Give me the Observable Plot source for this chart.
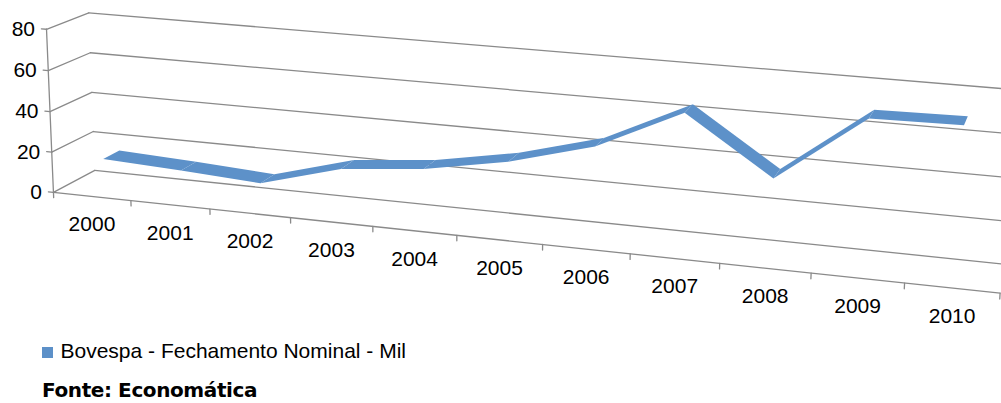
<!DOCTYPE html>
<html><head><meta charset="utf-8">
<script src="https://cdn.jsdelivr.net/npm/d3@7"></script>
<script src="https://cdn.jsdelivr.net/npm/@observablehq/plot@0.6"></script>
<style>
html,body{margin:0;padding:0;background:#fff;}
#wrap{position:relative;width:1001px;height:403px;overflow:hidden;background:#fff;}
#chart{position:absolute;left:0;top:0;}
#sw{position:absolute;left:41.5px;top:346.5px;width:11px;height:11px;background:#5c90c8;}
#lt{position:absolute;left:60.5px;top:339px;font-size:21px;line-height:24px;font-family:"Liberation Sans",Arial,sans-serif;color:#000;white-space:nowrap;}
#source{position:absolute;left:42px;top:378px;font-weight:bold;font-size:20px;line-height:24px;letter-spacing:-0.4px;font-family:"DejaVu Sans",Verdana,sans-serif;color:#000;white-space:nowrap;}
</style></head><body>
<div id="wrap"><div id="chart"></div><div id="sw"></div><div id="lt"></div><div id="source"></div></div>
<script>
// ---- data ----
const years = ["2000","2001","2002","2003","2004","2005","2006","2007","2008","2009","2010"];
const values = [15.3, 13.6, 11.3, 22.2, 26.2, 33.5, 44.5, 63.9, 37.6, 68.6, 69.3];
const yTicks = [0, 20, 40, 60, 80];
const seriesName = "Bovespa - Fechamento Nominal - Mil";
const sourceText = "Fonte: Economática";

// ---- 3D perspective camera: (category position u, value v, depth w) -> screen ----
const cam = {
  ax: [76.156, -0.09696, 44.874, 52.951],
  ay: [6.2634, -2.04554, -15.636, 191.904],
  d:  [-0.009907, -0.000221, 0.037509]
};
function P(u, v, w) {
  const d = 1 + cam.d[0]*u + cam.d[1]*v + cam.d[2]*w;
  return [
    (cam.ax[0]*u + cam.ax[1]*v + cam.ax[2]*w + cam.ax[3]) / d,
    (cam.ay[0]*u + cam.ay[1]*v + cam.ay[2]*w + cam.ay[3]) / d
  ];
}
const perspective = d3.geoTransform({
  point(u, v, w) { const [X, Y] = P(u, v, w || 0); this.stream.point(X, Y); }
});

const nCat = years.length;
const vMax = yTicks[yTicks.length - 1];
const w1 = 0.30, w2 = 0.70;
const line = pts => ({type: "LineString", coordinates: pts});

const backGrid = yTicks.map(v => line([[0, v, 1], [nCat, v, 1]]));
const sideGrid = yTicks.map(v => line([[0, v, 0], [0, v, 1]]));
const axes = [line([[0, 0, 0], [0, vMax, 0]]), line([[0, 0, 0], [nCat, 0, 0]])];
const yTickMarks = yTicks.map(v => line([[0, v, 0], [-0.066, v, 0]]));
const xTickMarks = d3.range(nCat + 1).map(i => line([[i, 0, 0], [i, -2.6, 0]]));
const ribbon = d3.range(values.length - 1).map(i => ({type: "Polygon", coordinates: [[
  [i + 0.5, values[i], w1], [i + 1.5, values[i + 1], w1], [i + 1.5, values[i + 1], w2], [i + 0.5, values[i], w2], [i + 0.5, values[i], w1]
]]}));

const gridColor = "#8a8a8a";
const chart = Plot.plot({
  width: 1001, height: 330, margin: 0,
  projection: perspective,
  style: {fontFamily: "'Liberation Sans', Arial, sans-serif", background: "transparent", overflow: "hidden"},
  marks: [
    Plot.geo(backGrid, {stroke: gridColor, strokeWidth: 1.3}),
    Plot.geo(sideGrid, {stroke: gridColor, strokeWidth: 1.3}),
    Plot.geo(axes, {stroke: gridColor, strokeWidth: 1.3}),
    Plot.geo(yTickMarks, {stroke: gridColor, strokeWidth: 1.3}),
    Plot.geo(xTickMarks, {stroke: gridColor, strokeWidth: 1.3}),
    Plot.geo(ribbon, {fill: "#5d91c9", stroke: "none"}),
    Plot.text(years, {x: (d, i) => i + 0.5, y: () => 0, text: d => d, dy: 28, fontSize: 21, fill: "#000"}),
    Plot.text(yTicks, {x: () => 0, y: d => d, text: d => String(d), textAnchor: "end", dx: -11.5, fontSize: 21, fill: "#000"})
  ]
});
document.getElementById("chart").append(chart);
document.getElementById("lt").textContent = seriesName;
document.getElementById("source").textContent = sourceText;
</script>
</body></html>
